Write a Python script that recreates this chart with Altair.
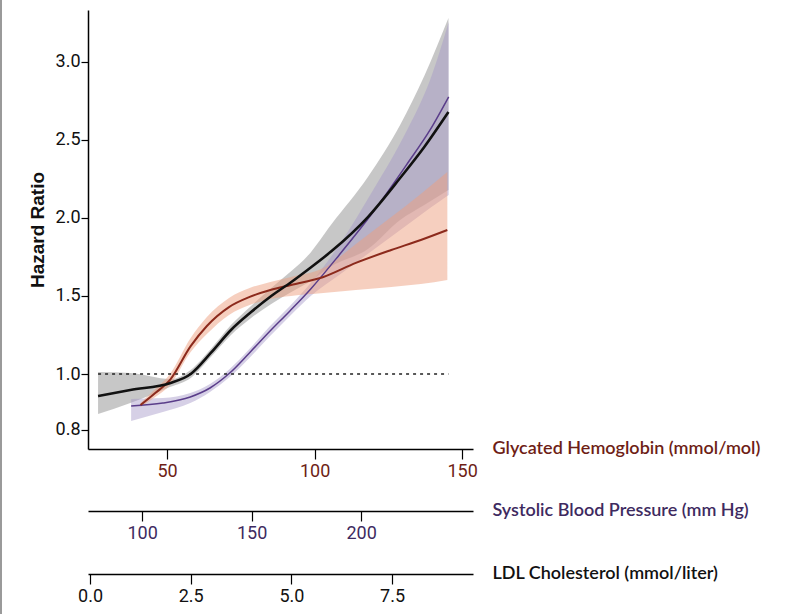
import altair as alt
import pandas as pd

# ---- LDL cholesterol (mmol/liter): black curve, gray band ----
ldl_x = [0.2, 1.0, 2.0, 2.5, 3.0, 3.5, 4.0, 4.5, 5.0, 5.4, 6.0, 6.9, 7.7, 8.3, 8.9]
ldl_hr = [0.921, 0.943, 0.968, 1.000, 1.135, 1.282, 1.397, 1.500, 1.590, 1.667, 1.788, 2.006, 2.256, 2.455, 2.679]
ldl_lo = [0.857, 0.896, 0.954, 0.986, 1.109, 1.250, 1.359, 1.449, 1.526, 1.583, 1.692, 1.801, 1.987, 2.083, 2.179]
ldl_hi = [1.013, 1.006, 0.982, 1.026, 1.160, 1.314, 1.436, 1.551, 1.660, 1.756, 1.962, 2.263, 2.596, 2.910, 3.282]

# ---- Glycated hemoglobin (mmol/mol): dark red curve, salmon band ----
hba1c_x = [41, 46, 51, 58, 63.5, 71, 78, 85, 92, 103, 114, 126, 136, 145]
hba1c_hr = [0.889, 0.932, 0.979, 1.179, 1.308, 1.429, 1.494, 1.538, 1.571, 1.622, 1.712, 1.795, 1.859, 1.923]
hba1c_lo = [0.882, 0.918, 0.961, 1.141, 1.256, 1.378, 1.442, 1.481, 1.500, 1.519, 1.538, 1.558, 1.577, 1.603]
hba1c_hi = [0.896, 0.946, 1.000, 1.231, 1.365, 1.487, 1.551, 1.590, 1.622, 1.679, 1.833, 2.006, 2.154, 2.295]

# ---- Systolic blood pressure (mm Hg): purple curve, lavender band ----
sbp_x = [95, 109.5, 122, 131, 140, 149, 158, 167.5, 177, 190, 205.5, 221, 231.5, 240]
sbp_hr = [0.886, 0.896, 0.918, 0.950, 1.006, 1.135, 1.269, 1.404, 1.545, 1.763, 2.038, 2.346, 2.564, 2.776]
sbp_lo = [0.832, 0.864, 0.896, 0.936, 0.989, 1.103, 1.237, 1.372, 1.500, 1.635, 1.795, 1.955, 2.064, 2.147]
sbp_hi = [0.911, 0.914, 0.932, 0.964, 1.032, 1.160, 1.301, 1.436, 1.583, 1.827, 2.179, 2.564, 2.885, 3.256]

# axis tick labels
hba1c_ticks = [50, 100, 150]
sbp_ticks = [100, 150, 200]
ldl_ticks = [0.0, 2.5, 5.0, 7.5]
hr_ticks = [0.8, 1.0, 1.5, 2.0, 2.5, 3.0]

# scale domains (aligned so the three x axes share the plot width)
HB_DOMAIN = [23.2, 153.7]
SBP_DOMAIN = [75.3, 251.1]
LDL_DOMAIN = [-0.05, 9.51]
HR_DOMAIN = [0.732, 1.0, 3.333]

W, H = 385, 439
LABEL_FONT = "Roboto, sans-serif"
TITLE_FONT = "Lato, sans-serif"
HB_COLOR = "#6e1e16"
SBP_COLOR = "#3e2a60"

ldl = pd.DataFrame({"x": ldl_x, "hr": ldl_hr, "lo": ldl_lo, "hi": ldl_hi})
hb = pd.DataFrame({"x": hba1c_x, "hr": hba1c_hr, "lo": hba1c_lo, "hi": hba1c_hi})
sbp = pd.DataFrame({"x": sbp_x, "hr": sbp_hr, "lo": sbp_lo, "hi": sbp_hi})

yscale = alt.Scale(domain=HR_DOMAIN, range=[H, H - 75, 0], nice=False, zero=False)
yaxis = alt.Axis(
    values=hr_ticks, format=".1f", grid=False,
    domainColor="black", domainWidth=1.5, tickColor="black", tickSize=7, tickWidth=1.2,
    labelFont=LABEL_FONT, labelFontSize=18, labelColor="#111", labelPadding=1,
    titleFont="Liberation Sans", titleFontSize=19, titleFontWeight="bold",
    titleColor="#111", titleX=-51, titleBaseline="middle",
)


def Y(field):
    return alt.Y(f"{field}:Q", scale=yscale, axis=yaxis, title="Hazard Ratio")


def xaxis(values, color, title, offset, fmt):
    return alt.Axis(
        values=values, format=fmt, orient="bottom", offset=offset, grid=False,
        domainColor="black", domainWidth=1.5, tickColor="black", tickSize=10, tickWidth=1.2,
        labelFont=LABEL_FONT, labelFontSize=18, labelColor=color, labelPadding=3, labelFlush=False,
        title=title, titleX=404, titleY=-1, titleAlign="left", titleBaseline="middle",
        titleAngle=0, titleFont=TITLE_FONT, titleFontSize=18, titleFontWeight=600,
        titleColor=color,
    )


def xs(domain):
    return alt.Scale(domain=domain, nice=False, zero=False)


gray = alt.Chart(ldl).mark_area(color="#8f8f8f", opacity=0.5, interpolate="monotone").encode(
    x=alt.X("x:Q", scale=xs(LDL_DOMAIN),
            axis=xaxis(ldl_ticks, "#111", "LDL Cholesterol (mmol/liter)", 125, ".1f")),
    y=Y("lo"), y2="hi:Q")

lavender = alt.Chart(sbp).mark_area(color="#a596c8", opacity=0.45, interpolate="monotone").encode(
    x=alt.X("x:Q", scale=xs(SBP_DOMAIN),
            axis=xaxis(sbp_ticks, SBP_COLOR, "Systolic Blood Pressure (mm Hg)", 62, "d")),
    y=Y("lo"), y2="hi:Q")

salmon = alt.Chart(hb).mark_area(color="#ee9f7f", opacity=0.5, interpolate="monotone").encode(
    x=alt.X("x:Q", scale=xs(HB_DOMAIN),
            axis=xaxis(hba1c_ticks, HB_COLOR, "Glycated Hemoglobin (mmol/mol)", 0, "d")),
    y=Y("lo"), y2="hi:Q")

ref = alt.Chart(ldl).transform_aggregate(
    xmin="min(x)", xmax="max(x)"
).transform_calculate(one="1").mark_rule(
    color="#222", strokeWidth=1.5, strokeDash=[3, 4]
).encode(x=alt.X("xmin:Q", scale=xs(LDL_DOMAIN), axis=None), x2="xmax:Q", y=Y("one"))

purple_line = alt.Chart(sbp).mark_line(color="#5a3d8a", strokeWidth=1.5, interpolate="monotone").encode(
    x=alt.X("x:Q", scale=xs(SBP_DOMAIN), axis=None), y=Y("hr"))
red_line = alt.Chart(hb).mark_line(color="#8c2a1c", strokeWidth=2, interpolate="monotone").encode(
    x=alt.X("x:Q", scale=xs(HB_DOMAIN), axis=None), y=Y("hr"))
black_line = alt.Chart(ldl).mark_line(color="#111", strokeWidth=2.6, interpolate="monotone").encode(
    x=alt.X("x:Q", scale=xs(LDL_DOMAIN), axis=None), y=Y("hr"))

border = alt.Chart(pd.DataFrame({"a": [0]})).mark_rule(color="#9a9a9a", strokeWidth=2).encode(
    x=alt.value(-87), y=alt.value(-10), y2=alt.value(604))

chart = alt.layer(
    gray, lavender, salmon, ref, purple_line, red_line, black_line, border
).resolve_scale(x="independent").properties(
    width=W, height=H,
    padding={"left": 88, "top": 10, "right": 317, "bottom": 165},
    autosize=alt.AutoSizeParams(type="none"),
    background="white",
).configure_view(stroke=None)

chart.save("out.html", embed_options={"renderer": "svg", "actions": False})
